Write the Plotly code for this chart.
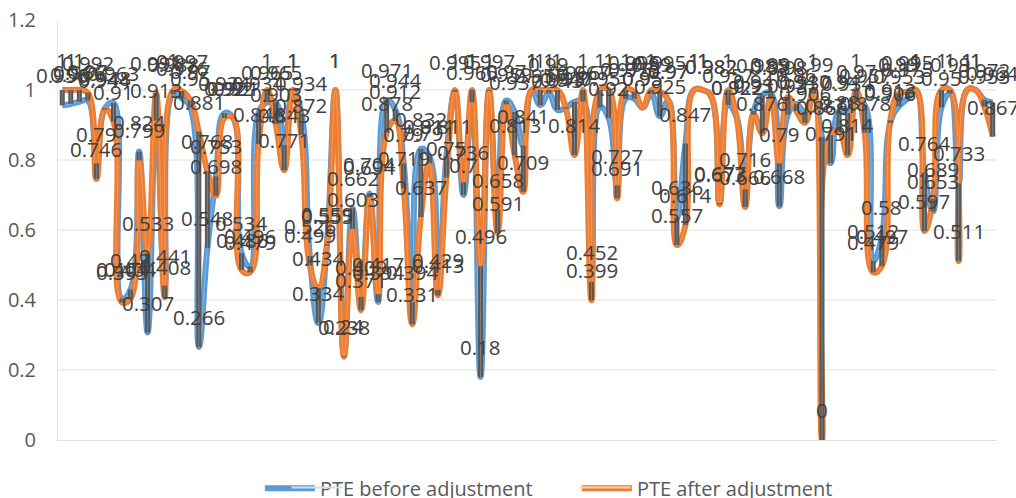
import plotly.graph_objects as go

# DMU number along the x axis, no tick labels in the original
dmu = list(range(1, 111))

pte_before = [
    0.956, 0.96, 0.966, 0.97, 0.79, 0.948, 0.963, 0.404, 0.43, 0.824,
    0.307, 0.913, 0.441, 0.988, 0.976, 0.95, 0.266, 0.548, 0.753, 0.934,
    0.921, 0.534, 0.496, 0.934, 0.965, 0.965, 0.843, 1, 0.934, 0.526,
    0.334, 0.559, 1, 0.24, 0.662, 0.409, 0.704, 0.394, 0.971, 0.944,
    0.79, 0.394, 0.832, 0.811, 0.429, 0.811, 0.995, 0.7, 0.965, 0.18,
    0.997, 0.658, 0.97, 0.937, 0.841, 1, 0.957, 0.99, 0.943, 0.95,
    0.966, 0.967, 0.452, 0.95, 0.92, 0.727, 0.975, 0.975, 0.95, 0.99,
    0.925, 0.97, 0.636, 0.847, 1, 1, 0.982, 0.677, 0.957, 0.922,
    0.716, 0.94, 0.985, 0.99, 0.668, 0.93, 0.96, 0.937, 0.99, 0.866,
    0.791, 0.94, 0.934, 0.97, 0.957, 0.512, 0.58, 0.906, 0.953, 0.975,
    1, 0.764, 0.653, 0.95, 0.99, 0.733, 1, 1, 0.972, 0.964,
]
pte_after = [
    1, 1, 1, 0.992, 0.746, 0.944, 0.91, 0.393, 0.404, 0.799,
    0.533, 0.991, 0.408, 1, 0.997, 0.97, 0.881, 0.768, 0.698, 0.92,
    0.92, 0.486, 0.479, 0.846, 1, 0.903, 0.771, 1, 0.872, 0.499,
    0.434, 0.555, 1, 0.238, 0.603, 0.371, 0.694, 0.417, 0.878, 0.912,
    0.719, 0.331, 0.637, 0.791, 0.413, 0.75, 1, 0.736, 1, 0.496,
    1, 0.591, 0.959, 0.813, 0.709, 1, 1, 1, 1, 0.947,
    0.814, 1, 0.399, 1, 1, 0.691, 1, 0.995, 0.95, 1,
    0.995, 0.97, 0.557, 0.614, 1, 1, 0.982, 0.673, 1, 0.922,
    0.666, 0.93, 0.876, 0.98, 0.79, 0.98, 0.94, 0.906, 1, 0,
    0.871, 0.88, 0.814, 1, 0.878, 0.479, 0.497, 0.913, 0.99, 0.995,
    1, 0.597, 0.689, 1, 1, 0.511, 1, 1, 0.953, 0.867,
]
y_ticks = [0, 0.2, 0.4, 0.6, 0.8, 1, 1.2]

BLUE = "#5b9bd5"
BLUE_IN = "#86b6e0"
ORANGE = "#ed7d31"
ORANGE_IN = "#f29a60"
FONT = "Open Sans"

fig = go.Figure()


def add_series(name, values, color, inner):
    # Excel "double" stroke: wide line with a thin pale line down the middle
    fig.add_trace(go.Scatter(x=dmu, y=values, name=name, mode="lines",
                             line=dict(color=color, width=6, shape="spline", smoothing=1.3)))
    fig.add_trace(go.Scatter(x=dmu, y=values, mode="lines", showlegend=False,
                             line=dict(color=inner, width=1, shape="spline", smoothing=1.3)))


add_series("PTE before adjustment", pte_before, BLUE, BLUE_IN)
add_series("PTE after adjustment", pte_after, ORANGE, ORANGE_IN)

# high-low lines between the two series
hl_x, hl_y = [], []
for d, b, a in zip(dmu, pte_before, pte_after):
    hl_x += [d, d, None]
    hl_y += [b, a, None]
fig.add_trace(go.Scatter(x=hl_x, y=hl_y, mode="lines", showlegend=False,
                         line=dict(color="#595959", width=5)))
fig.add_trace(go.Scatter(x=hl_x, y=hl_y, mode="lines", showlegend=False,
                         line=dict(color="#808080", width=1)))

# data labels sit well above each point
for values in (pte_before, pte_after):
    for d, v in zip(dmu, values):
        fig.add_annotation(x=d, y=v, text=f"{v:g}", showarrow=False, yshift=30,
                           font=dict(family=FONT, size=20.5, color="#404040"))

# pale middle of the double stroke in the legend keys
for key_x, key_color in ((291, "#cfe2f3"), (605, "#fad5bc")):
    fig.add_annotation(xref="paper", yref="paper", x=(key_x - 58) / 939, y=(440 - 489) / 420,
                       text=" ", showarrow=False, width=50, height=1, borderpad=0,
                       bgcolor=key_color, font=dict(size=1))

fig.update_layout(
    width=1016,
    height=498,
    margin=dict(l=58, r=19, t=20, b=58, autoexpand=False),
    paper_bgcolor="white",
    plot_bgcolor="white",
    font=dict(family=FONT, size=20, color="#595959"),
    hovermode=False,
    legend=dict(orientation="h", x=0.215, xanchor="left",
                y=-0.115, yanchor="middle", itemwidth=50,
                entrywidth=252, entrywidthmode="pixels",
                font=dict(family=FONT, size=20, color="#595959"),
                bgcolor="rgba(0,0,0,0)"),
)
fig.update_xaxes(range=[0.5, 110.5], showticklabels=False, showgrid=False,
                 zeroline=False, ticks="", showline=True, linecolor="#e0e0e0",
                 linewidth=1)
fig.update_yaxes(range=[0, 1.2], tickvals=y_ticks, ticklabelstandoff=17,
                 gridcolor="#efefef", gridwidth=1.5, zeroline=False,
                 showline=True, linecolor="#e6e6e6", linewidth=1, ticks="")

fig.write_html("out.html", config=dict(displayModeBar=False),
               post_script="document.body.style.margin='0';")
